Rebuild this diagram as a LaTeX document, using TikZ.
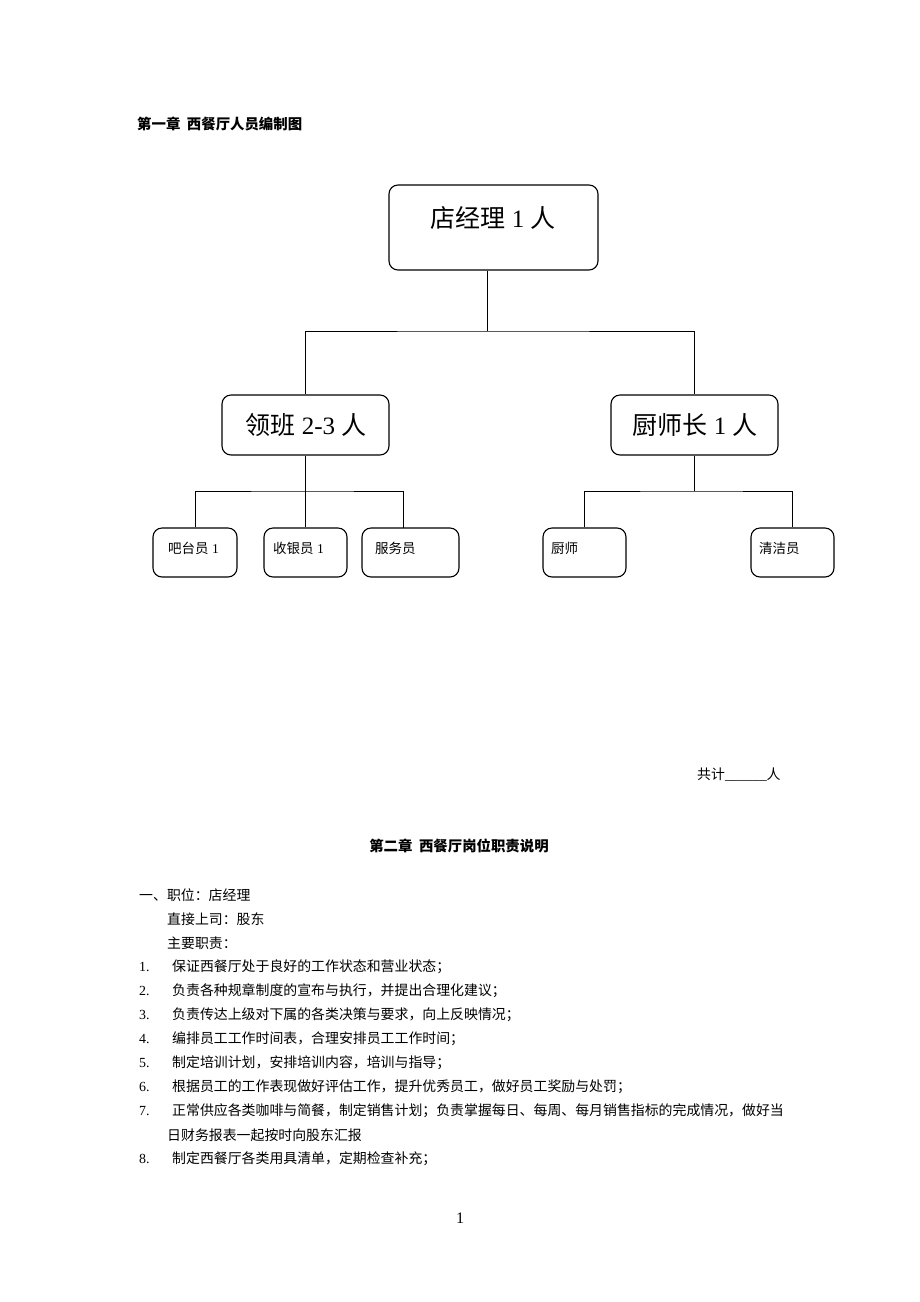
\documentclass[tikz,border=0pt]{standalone}
\usepackage{fontspec}
\setmainfont{Liberation Serif}
\newfontfamily\cjk{Noto Sans CJK SC}
\usetikzlibrary{calc}

\tikzset{
  post/.style={draw, rounded corners=9pt, line width=1.1pt, inner sep=0pt},
  link/.style={line width=0.9pt},
  bigtext/.style={font=\fontsize{25}{30}\selectfont, inner sep=0pt},
  smalltext/.style={font=\fontsize{13.5}{16}\selectfont, anchor=west, inner sep=0pt},
  bodytext/.style={font=\fontsize{13.9}{16}\selectfont, anchor=west, inner sep=0pt},
  heading/.style={font=\fontsize{14.4}{16}\selectfont\bfseries, inner sep=0pt}
}

\begin{document}
\begin{tikzpicture}[x=1pt, y=-1pt]
        \useasboundingbox[fill=white] (0,0) rectangle (920,1302);

        % chart title
        \node[heading, anchor=west] (title) at (137,124) {\cjk 第一章\ \ 西餐厅人员编制图};

        % boxes
        \node[post, minimum width=209pt, minimum height=85pt] (mgr) at (493.5,227.5) {};
        \node[post, minimum width=167pt, minimum height=60pt] (lead) at (305.5,425) {};
        \node[post, minimum width=167pt, minimum height=60pt] (chief) at (694.5,425) {};
        \node[post, minimum width=84pt, minimum height=49pt] (bar) at (195,552.5) {};
        \node[post, minimum width=83pt, minimum height=49pt] (cash) at (305.5,552.5) {};
        \node[post, minimum width=97pt, minimum height=49pt] (waiter) at (410.5,552.5) {};
        \node[post, minimum width=83pt, minimum height=49pt] (cook) at (584.5,552.5) {};
        \node[post, minimum width=83pt, minimum height=49pt] (clean) at (792.5,552.5) {};

        % box texts
        \node[bigtext] (mgrtext) at (493,218) {{\cjk 店经理} 1 {\cjk 人}};
        \node[bigtext] (leadtext) at (306,425) {{\cjk 领班} 2-3 {\cjk 人}};
        \node[bigtext] (chieftext) at (695,425) {{\cjk 厨师长} 1 {\cjk 人}};
        \node[smalltext] (bartext) at (168,548) {{\cjk 吧台员} 1};
        \node[smalltext] (cashtext) at (273,548) {{\cjk 收银员} 1};
        \node[smalltext] (waitertext) at (375,548) {\cjk 服务员};
        \node[smalltext] (cooktext) at (551,548) {\cjk 厨师};
        \node[smalltext] (cleantext) at (759,548) {\cjk 清洁员};

        % connectors
        \coordinate (top) at (487,331);
        \coordinate (leftbar) at (305.5,491);
        \coordinate (rightbar) at (694.5,491);
        \coordinate (wtop) at (403.5,528);
        \draw[link] (mgr.south -| top) -- (top);
        \draw[link] (lead.north) |- (top) -| (chief.north);
        \draw[link] (lead.south) -- (cash.north);
        \draw[link] (bar.north) |- (leftbar) -| (wtop);
        \draw[link] (chief.south) -- (rightbar);
        \draw[link] (cook.north) |- (rightbar) -| (clean.north);

        % total
        \node[bodytext] (total) at (697,775) {{\cjk 共计}\_\_\_\_\_\_{\cjk 人}};

        % second chapter
        \node[heading] (title2) at (459,846) {\cjk 第二章\ \ 西餐厅岗位职责说明};
        \node[bodytext] (post1) at (139,895) {\cjk 一、职位：店经理};
        \node[bodytext] (boss) at (167,919) {\cjk 直接上司：股东};
        \node[bodytext] (duty) at (167,943) {\cjk 主要职责：};

        \foreach \n/\y/\t in {1/967/{保证西餐厅处于良好的工作状态和营业状态；},
                              2/991/{负责各种规章制度的宣布与执行，并提出合理化建议；},
                              3/1015/{负责传达上级对下属的各类决策与要求，向上反映情况；},
                              4/1039/{编排员工工作时间表，合理安排员工工作时间；},
                              5/1063/{制定培训计划，安排培训内容，培训与指导；},
                              6/1087/{根据员工的工作表现做好评估工作，提升优秀员工，做好员工奖励与处罚；},
                              7/1111/{正常供应各类咖啡与简餐，制定销售计划；负责掌握每日、每周、每月销售指标的完成情况，做好当},
                              8/1159/{制定西餐厅各类用具清单，定期检查补充；}}{
            \node[bodytext] (num\n) at (139,\y) {\n.};
            \node[bodytext] (item\n) at (172,\y) {\cjk \t};
        }
        \node[bodytext] (item7b) at (167,1135) {\cjk 日财务报表一起按时向股东汇报};

        % page number
        \node[font=\fontsize{16}{18}\selectfont, inner sep=0pt] (page) at (460,1218) {1};
    \end{tikzpicture}
\end{document}
